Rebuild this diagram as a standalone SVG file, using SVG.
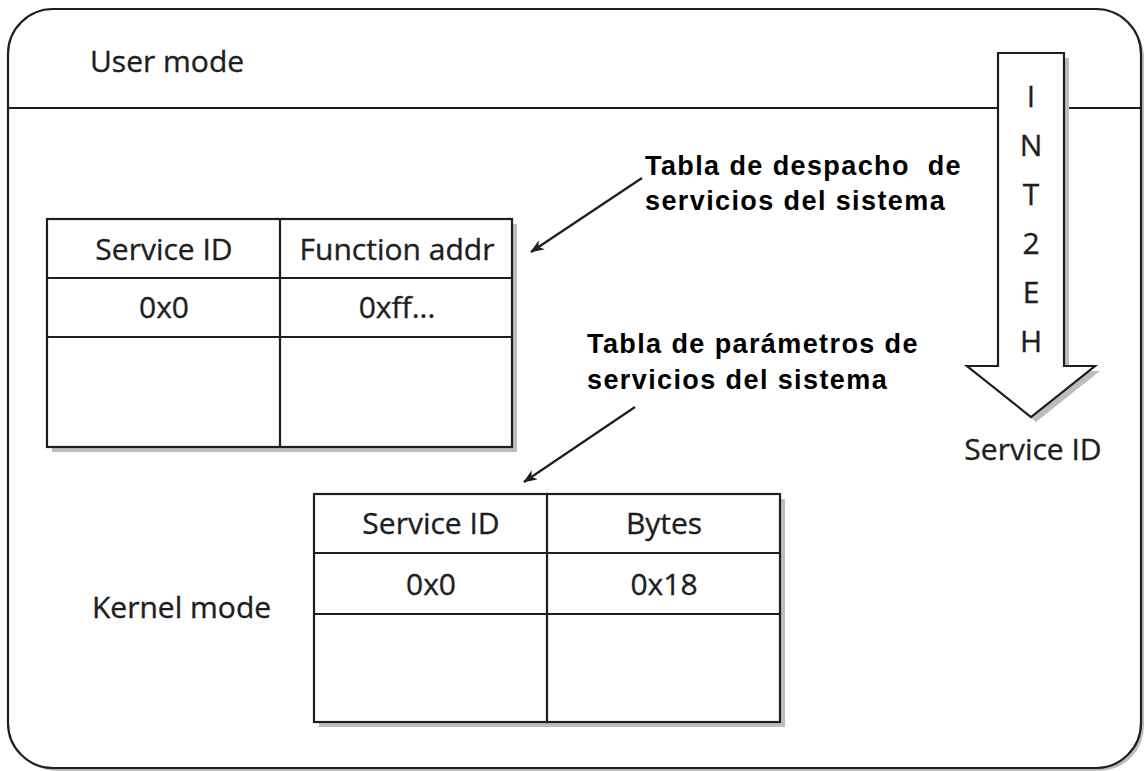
<svg xmlns="http://www.w3.org/2000/svg" width="1144" height="771" viewBox="0 0 1144 771">
<defs>
<style>
.ln{stroke:#1e1e1e;stroke-width:2.2;fill:none}
.box{stroke:#1e1e1e;stroke-width:2.2;fill:#fff}
.sh{fill:#bdbdbd;stroke:none}
.t{font-family:"Open Sans","Noto Sans",sans-serif;font-size:30px;fill:#1e1e1e;stroke:#1e1e1e;stroke-width:0.35}
.c{text-anchor:middle}
.b{font-family:"Liberation Sans",Arial,sans-serif;font-weight:bold;font-size:27px;fill:#000;letter-spacing:1.4px}
</style>
<marker id="ah" markerWidth="14" markerHeight="11" refX="13" refY="5.5" orient="auto" markerUnits="userSpaceOnUse">
<path d="M0,0 L14,5.5 L0,11 L4,5.5 Z" fill="#1e1e1e"/>
</marker>
</defs>
<rect width="1144" height="771" fill="#fff"/>
<g id="frame">
<rect class="sh" x="12" y="13" width="1132" height="758" rx="45"/>
<rect class="box" x="8" y="9" width="1133" height="759" rx="45"/>
<line class="ln" x1="8" y1="108" x2="1141" y2="108"/>
<text class="t" x="90" y="72">User mode</text>
<text class="t" x="92" y="618">Kernel mode</text>
</g>
<g id="int2eh">
<polygon class="sh" points="1003,58 1069,58 1069,371 1100,371 1036,422 972,371 1003,371"/>
<polygon class="box" points="998,53 1064,53 1064,366 1095,366 1031,417 967,366 998,366"/>
<text class="t c" x="1031" y="107">I</text>
<text class="t c" x="1031" y="156">N</text>
<text class="t c" x="1031" y="205">T</text>
<text class="t c" x="1031" y="254">2</text>
<text class="t c" x="1031" y="303">E</text>
<text class="t c" x="1031" y="352">H</text>
<text class="t c" x="1033" y="460">Service ID</text>
</g>
<g id="dispatch-table">
<rect class="sh" x="52" y="224" width="465" height="228"/>
<rect class="box" x="47" y="219" width="465" height="228"/>
<line class="ln" x1="280" y1="219" x2="280" y2="447"/>
<line class="ln" x1="47" y1="278" x2="512" y2="278"/>
<line class="ln" x1="47" y1="337" x2="512" y2="337"/>
<text class="t c" x="164" y="260">Service ID</text>
<text class="t c" x="397" y="260">Function addr</text>
<text class="t c" x="164" y="318">0x0</text>
<text class="t c" x="397" y="318">0xff...</text>
</g>
<g id="param-table">
<rect class="sh" x="319" y="499" width="466" height="228"/>
<rect class="box" x="314" y="494" width="466" height="228"/>
<line class="ln" x1="547" y1="494" x2="547" y2="722"/>
<line class="ln" x1="314" y1="553" x2="780" y2="553"/>
<line class="ln" x1="314" y1="614" x2="780" y2="614"/>
<text class="t c" x="431" y="534">Service ID</text>
<text class="t c" x="664" y="534">Bytes</text>
<text class="t c" x="431" y="595">0x0</text>
<text class="t c" x="664" y="595">0x18</text>
</g>
<g id="label-dispatch">
<text class="b" x="645" y="175" xml:space="preserve">Tabla de despacho  de</text>
<text class="b" x="645" y="210">servicios del sistema</text>
</g>
<g id="label-params">
<text class="b" x="587" y="353">Tabla de parámetros de</text>
<text class="b" x="587" y="389">servicios del sistema</text>
</g>
<g id="connectors">
<line class="ln" x1="642" y1="178" x2="531" y2="252" stroke-width="2" marker-end="url(#ah)"/>
<line class="ln" x1="635" y1="407" x2="524" y2="482" stroke-width="2" marker-end="url(#ah)"/>
</g>
</svg>
